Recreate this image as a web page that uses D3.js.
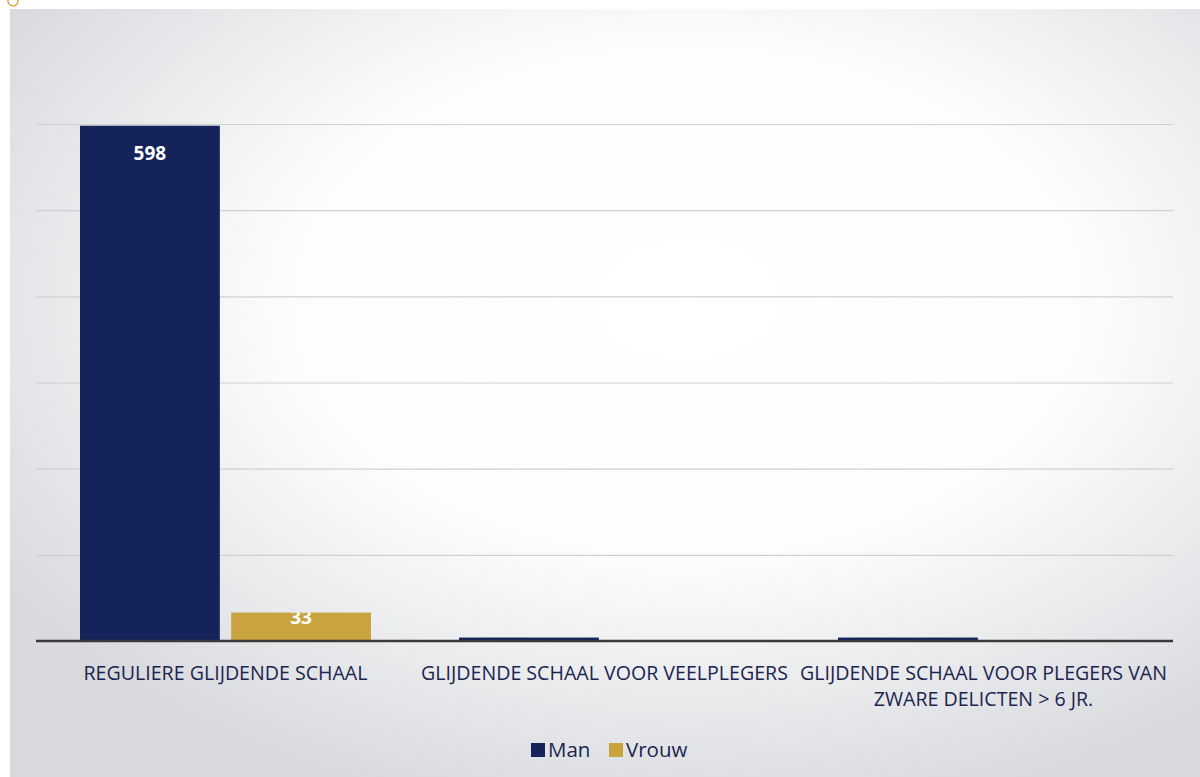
<!DOCTYPE html>
<html><head><meta charset="utf-8">
<script src="https://cdn.jsdelivr.net/npm/d3@7"></script>
<style>body{margin:0;background:#fff}svg{display:block}</style>
</head><body><svg id="c" width="1200" height="777"></svg>
<script>
const categories = [["REGULIERE GLIJDENDE SCHAAL"],["GLIJDENDE SCHAAL VOOR VEELPLEGERS"],["GLIJDENDE SCHAAL VOOR PLEGERS VAN","ZWARE DELICTEN > 6 JR."]];
const seriesNames = ["Man","Vrouw"];
const manValues = [598, 4, 4];
const vrouwValues = [33, 0, 0];
const yTicks = [0,100,200,300,400,500,600];
const colors = ["#14235a","#c9a43e"];

const svg = d3.select("#c");
const defs = svg.append("defs");
const rg = defs.append("radialGradient").attr("id","bg").attr("cx","57%").attr("cy","38%").attr("r","68%");
rg.append("stop").attr("offset","0%").attr("stop-color","#ffffff");
rg.append("stop").attr("offset","50%").attr("stop-color","#fcfcfc");
rg.append("stop").attr("offset","100%").attr("stop-color","#d8dade");
svg.append("rect").attr("x",10).attr("y",9).attr("width",1190).attr("height",768).attr("fill","url(#bg)");
svg.append("circle").attr("cx",13).attr("cy",1).attr("r",5).attr("fill","none").attr("stroke","#e0a840").attr("stroke-width",1.5);

const x0 = d3.scaleBand().domain(d3.range(categories.length)).range([36,1173]).paddingInner(0).paddingOuter(0);
const x1 = d3.scaleBand().domain(seriesNames).range([44,335]).paddingInner(0.075).paddingOuter(0);
const y = d3.scaleLinear().domain([0,600]).range([641,124]);

const grid = svg.append("g").attr("transform","translate(36,0)")
  .call(d3.axisLeft(y).tickValues(yTicks.slice(1)).tickSize(-1137).tickFormat(""));
grid.select(".domain").remove();
grid.selectAll("line").attr("stroke","#cfd0d3").attr("stroke-width",1.2);

const series = [manValues, vrouwValues];
const g = svg.append("g");
categories.forEach((c,i)=>{
  seriesNames.forEach((s,j)=>{
    const v = series[j][i];
    if(v<=0) return;
    const bx = x0(i)+x1(s), bw = x1.bandwidth(), by = y(v), bh = y(0)-y(v);
    g.append("rect").attr("x",bx).attr("y",by).attr("width",bw).attr("height",bh).attr("fill",colors[j]);
    if (v>=20){
      const cid = "clip"+i+"_"+j;
      defs.append("clipPath").attr("id",cid).append("rect").attr("x",bx).attr("y",by).attr("width",bw).attr("height",bh);
      g.append("text").attr("clip-path",`url(#${cid})`)
        .attr("x",bx+bw/2).attr("y", bh>60 ? by+27 : by+4)
        .attr("text-anchor","middle").attr("dominant-baseline","central")
        .attr("font-family","Open Sans, sans-serif").attr("font-weight","bold").attr("font-size",19)
        .attr("fill","#ffffff").text(v);
    }
  });
});

svg.append("line").attr("x1",36).attr("x2",1173).attr("y1",641).attr("y2",641).attr("stroke","#3a3a3a").attr("stroke-width",2.5);

const lab = svg.append("g").attr("font-family","Open Sans, sans-serif").attr("font-size",19.6).attr("fill","#1b2550").attr("text-anchor","middle");
categories.forEach((c,i)=>{
  c.forEach((line,k)=>{
    lab.append("text").attr("x",x0(i)+x0.bandwidth()/2).attr("y",680+k*25.5).text(line);
  });
});

const leg = svg.append("g").attr("font-family","Open Sans, sans-serif").attr("font-size",20.5).attr("fill","#1b2550");
const legX = [531, 609];
seriesNames.forEach((s,j)=>{
  leg.append("rect").attr("x",legX[j]).attr("y",743).attr("width",14).attr("height",14).attr("fill",colors[j]);
  leg.append("text").attr("x",legX[j]+17).attr("y",757).text(s);
});
</script></body></html>
